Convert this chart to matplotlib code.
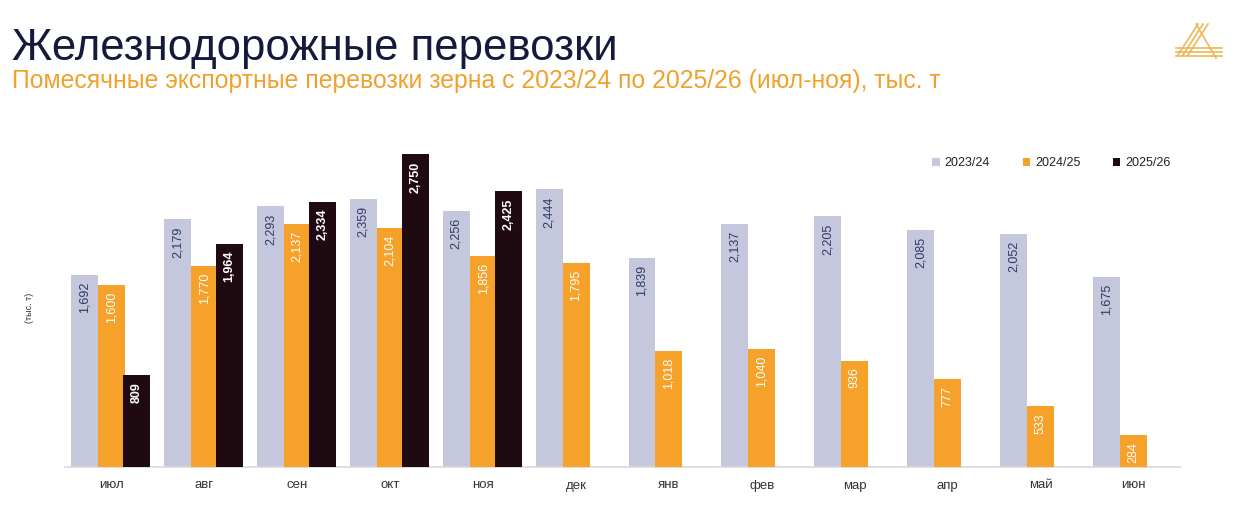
import matplotlib
matplotlib.use("Agg")
import matplotlib.pyplot as plt
import numpy as np

months = ["июл", "авг", "сен", "окт", "ноя", "дек", "янв", "фев", "мар", "апр", "май", "июн"]
seasons = ["2023/24", "2024/25", "2025/26"]
v2023 = [1692, 2179, 2293, 2359, 2256, 2444, 1839, 2137, 2205, 2085, 2052, 1675]
v2024 = [1600, 1770, 2137, 2104, 1856, 1795, 1018, 1040, 936, 777, 533, 284]
v2025 = [809, 1964, 2334, 2750, 2425]

colors = ["#C5C7DD", "#F5A12A", "#1E0A10"]
label_colors = ["#2A3A60", "white", "white"]
label_weights = ["normal", "normal", "bold"]

plt.rcParams['font.family'] = ['Liberation Sans', 'DejaVu Sans']

fig = plt.figure(figsize=(12.4, 5.16), dpi=100)
ax = fig.add_axes([65/1240, 1-467/516, 1115/1240, 341/516])

x = np.arange(len(months))
w = 0.29
offsets = [-0.29, 0.0, 0.27]
series = [v2023, v2024, v2025]
for i, (vals, s) in enumerate(zip(series, seasons)):
    xs = x[:len(vals)] + offsets[i]
    bars = ax.bar(xs, vals, width=w, color=colors[i], label=s, zorder=2 + i)
    for b, v in zip(bars, vals):
        ax.annotate(f"{v:,}", (b.get_x() + b.get_width()/2, v),
                    xytext=(0, -5), textcoords="offset points",
                    ha="center", va="top", rotation=90, fontsize=9,
                    color=label_colors[i], fontweight=label_weights[i],
                    zorder=10)

ax.set_xlim(-0.5, 11.5)
ax.set_ylim(0, 3000)
ax.set_xticks(x)
ax.set_xticklabels(months, fontsize=9.5, color="#333333")
ax.tick_params(axis="x", length=0, pad=9)
ax.set_yticks([])
for sp in ["top", "right", "left"]:
    ax.spines[sp].set_visible(False)
ax.spines["bottom"].set_color("#D9D9D9")
ax.spines["bottom"].set_linewidth(1.2)

fig.text(30/1240, 1-308/516, "(тыс. т)", rotation=90, fontsize=6.5, color="#333333",
         ha="center", va="center")

leg = ax.legend(loc="upper right", bbox_to_anchor=(1182/1240, 1-146/516),
                bbox_transform=fig.transFigure, ncol=3, frameon=False,
                fontsize=9, handlelength=0.6, handleheight=0.6,
                columnspacing=2.6, handletextpad=0.4)
for t in leg.get_texts():
    t.set_color("#222222")

fig.text(12/1240, 1-60/516, "Железнодорожные перевозки", fontsize=31.5,
         color="#151A3C", ha="left", va="baseline")
fig.text(12/1240, 1-88/516, "Помесячные экспортные перевозки зерна с 2023/24 по 2025/26 (июл-ноя), тыс. т",
         fontsize=17.8, color="#F0A12C", ha="left", va="baseline")

# logo
lc = "#EDB855"
for dx in (0, 5, 10):
    fig.add_artist(plt.Line2D([(1178+dx)/1240, (1198+dx)/1240], [1-55/516, 1-24/516],
                              color=lc, lw=1.2, transform=fig.transFigure))
for dy in (0, 4, 8):
    fig.add_artist(plt.Line2D([1176/1240, 1222/1240], [1-(48+dy)/516, 1-(48+dy)/516],
                              color=lc, lw=1.2, transform=fig.transFigure))
fig.add_artist(plt.Line2D([1196/1240, 1216/1240], [1-24/516, 1-58/516],
                          color=lc, lw=1.2, transform=fig.transFigure))

fig.savefig("out.png", dpi=100)
